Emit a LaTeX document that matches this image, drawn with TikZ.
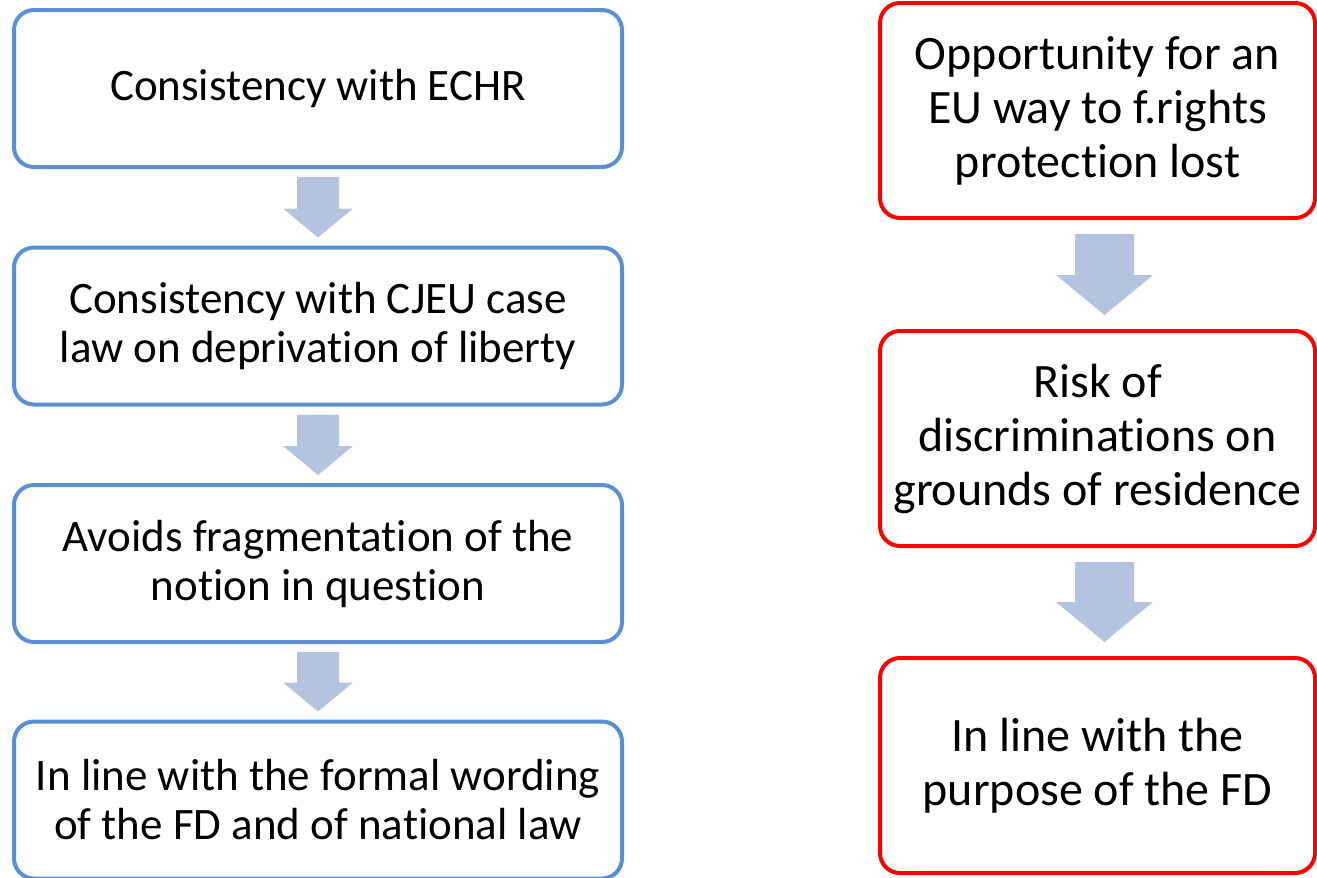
\documentclass[tikz,border=0pt]{standalone}
\usepackage{fontspec}
\setmainfont{Carlito}[RawFeature={-liga;-clig;-calt}]
\usetikzlibrary{calc}
\definecolor{boxblue}{HTML}{5B8FD4}
\definecolor{arrowfill}{HTML}{B4C4DE}
\tikzset{
  box/.style={draw, line width=4pt, rounded corners=20pt, align=center, fill=white, inner sep=0pt},
  lbox/.style={box, draw=boxblue, minimum width=608pt, minimum height=157pt, font=\fontsize{45}{49}\selectfont},
  rbox/.style={box, draw=red, minimum width=435pt, minimum height=215pt, font=\fontsize{48}{54}\selectfont},
}
% block arrow between two named nodes: #1 from, #2 to, #3 shaft half width, #4 head half width, #5 head length, #6 gap, #7 x offset
\newcommand\blockarr[7]{%
  \fill[arrowfill] let \p1=(#1.south), \p2=(#2.north) in
    (\x1+#7-#3,\y1-#6) -- (\x1+#7+#3,\y1-#6) -- (\x1+#7+#3,\y2+#6+#5) -- (\x1+#7+#4,\y2+#6+#5)
    -- (\x1+#7,\y2+#6) -- (\x1+#7-#4,\y2+#6+#5) -- (\x1+#7-#3,\y2+#6+#5) -- cycle;}
\begin{document}
\begin{tikzpicture}[x=1pt,y=-1pt]
\useasboundingbox (0,0) rectangle (1317,878);
\node[lbox] (l1) at (318,88.5) {Consistency with ECHR};
\node[lbox] (l2) at (318,326) {Consistency with CJEU case\\law on deprivation of liberty};
\node[lbox] (l3) at (318,563.5) {Avoids fragmentation of the\\notion in question};
\node[lbox] (l4) at (318,800) {In line with the formal wording\\of the FD and of national law};
\node[rbox] (r1) at (1097.5,110.5) {Opportunity for an\\EU way to f.rights\\protection lost};
\node[rbox] (r2) at (1097.5,438.5) {Risk of\\discriminations on\\grounds of residence};
\node[rbox] (r3) at (1097.5,765.5) {In line with the\\purpose of the FD};
\blockarr{l1}{l2}{21pt}{35pt}{29pt}{8pt}{0pt}
\blockarr{l2}{l3}{21pt}{35pt}{29pt}{8pt}{0pt}
\blockarr{l3}{l4}{21pt}{35pt}{29pt}{8pt}{0pt}
\blockarr{r1}{r2}{29.5pt}{48.5pt}{40pt}{14pt}{7pt}
\blockarr{r2}{r3}{29.5pt}{48.5pt}{40pt}{14pt}{7pt}
\end{tikzpicture}
\end{document}
